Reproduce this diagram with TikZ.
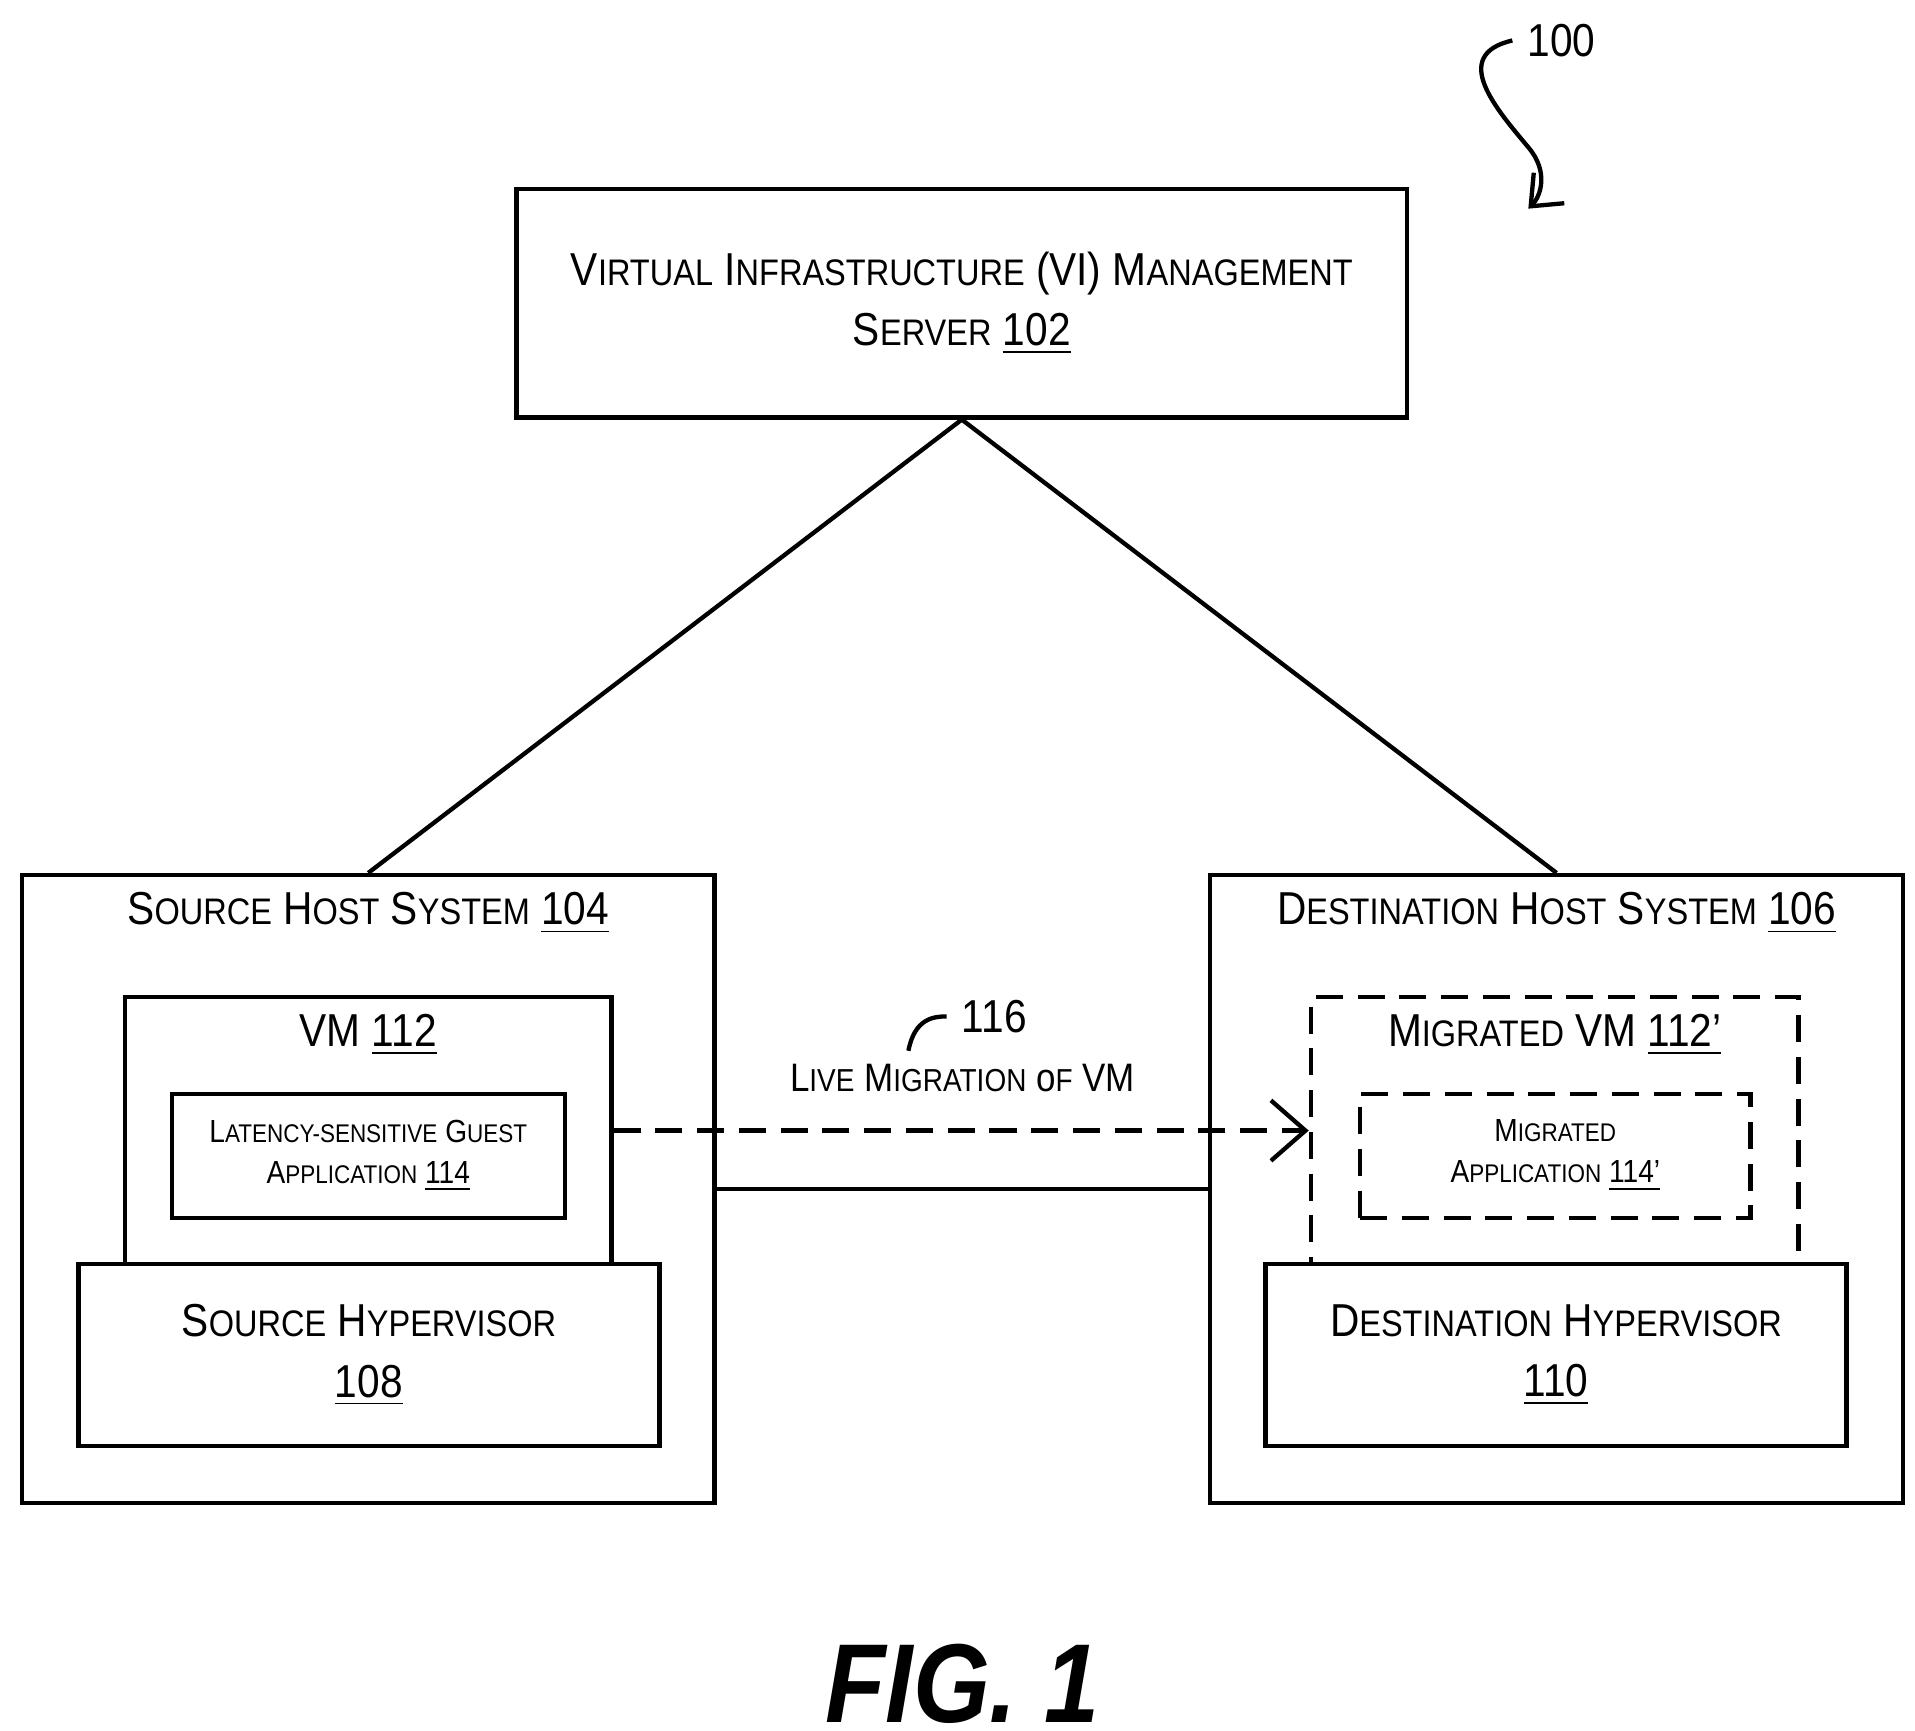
\documentclass[tikz,border=0pt]{standalone}
\usepackage{fontspec}
\setmainfont{Liberation Sans}[FakeStretch=0.88]
\usetikzlibrary{arrows.meta}
\makeatletter
% fake small caps: first letter full size, rest uppercase at 80%
\newcommand\SC[2]{#1{\fontsize{\dimexpr0.8\dimexpr\f@size pt\relax\relax}{0pt}\selectfont\MakeUppercase{#2}}}
\makeatother
\newcommand\num[1]{\underline{#1}}
\tikzset{
  box/.style={draw, line width=1pt, fill=white, align=center, inner sep=0pt},
  ghost/.style={box, dash pattern=on 0.22cm off 0.12cm},
  big/.style={font=\fontsize{10.7pt}{14pt}\selectfont},
  small/.style={font=\fontsize{7.4pt}{9.5pt}\selectfont},
  link/.style={line width=1pt}
}
\begin{document}
\begin{tikzpicture}[x=0.01cm, y=-0.01cm]
  \useasboundingbox (0,0) rectangle (1560,1410);

  % server
  \node[box, big, minimum width=7.25cm, minimum height=1.86cm] (server) at (783.5,247)
    {\SC{V}{irtual} \SC{I}{nfrastructure} (VI) \SC{M}{anagement}\\ \SC{S}{erver} \num{102}};

  % source side
  \node[box, minimum width=5.64cm, minimum height=5.11cm] (srchost) at (300,968.5) {};
  \node[big] (srctitle) at (300,744) {\SC{S}{ource} \SC{H}{ost} \SC{S}{ystem} \num{104}};
  \node[box, minimum width=3.96cm, minimum height=2.18cm] (vm) at (300,921) {};
  \node[big] (vmtitle) at (300,843) {VM \num{112}};
  \node[box, small, minimum width=3.2cm, minimum height=1.01cm] (app) at (300,941.5)
    {\SC{L}{atency-sensitive} \SC{G}{uest}\\ \SC{A}{pplication} \num{114}};
  \node[box, big, minimum width=4.73cm, minimum height=1.48cm] (srchyp) at (300.5,1104)
    {\SC{S}{ource} \SC{H}{ypervisor}\\ \num{108}};

  % destination side
  \node[box, minimum width=5.64cm, minimum height=5.11cm] (dsthost) at (1268,968.5) {};
  \node[big] (dsttitle) at (1268,744) {\SC{D}{estination} \SC{H}{ost} \SC{S}{ystem} \num{106}};
  \node[ghost, minimum width=3.97cm, minimum height=2.18cm] (migvm) at (1266.5,921) {};
  \node[big] (migvmtitle) at (1266.5,843) {\SC{M}{igrated} VM \num{112'}};
  \node[ghost, small, minimum width=3.18cm, minimum height=1.01cm] (migapp) at (1267,941.5)
    {\SC{M}{igrated}\\ \SC{A}{pplication} \num{114'}};
  \node[box, big, minimum width=4.73cm, minimum height=1.48cm] (dsthyp) at (1267.5,1104)
    {\SC{D}{estination} \SC{H}{ypervisor}\\ \num{110}};

  % connectors
  \draw[link] (server.south) -- (srchost.north);
  \draw[link] (server.south) -- (dsthost.north);
  \draw[link] (srchost.east) -- (dsthost.west);
  \draw[link, dash pattern=on 0.22cm off 0.12cm, -{Straight Barb[length=8pt,width=14pt]}]
    (vm.east) -- (migvm.west);

  % migration label
  \node[font=\fontsize{9.2pt}{12pt}\selectfont] (miglabel) at (784,878) {\SC{L}{ive} \SC{M}{igration} \SC{o}{f} VM};
  \node[font=\fontsize{10.7pt}{14pt}\selectfont] (ref116) at (810,828) {116};
  \coordinate (sq116a) at (740,856);
  \draw[link] (sq116a) .. controls (745,830) and (760,828) .. (ref116.west);

  % figure reference
  \node[font=\fontsize{10.7pt}{14pt}\selectfont] (ref100) at (1272,33) {100};
  \coordinate (sq100) at (1245,170);
  \draw[link, -{Straight Barb[length=6pt,width=10pt]}] (ref100.west)
    .. controls (1180,45) and (1220,90) .. (1245,120)
    .. controls (1262,140) and (1255,160) .. (sq100);

  \node[font=\fontsize{26pt}{30pt}\selectfont\bfseries\itshape] (fig) at (784,1372) {FIG. 1};
\end{tikzpicture}
\end{document}
